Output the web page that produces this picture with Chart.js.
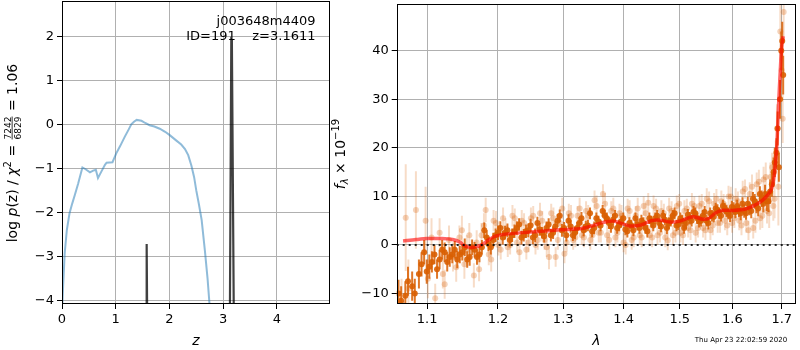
<!DOCTYPE html>
<html>
<head>
<meta charset="utf-8">
<script src="https://cdn.jsdelivr.net/npm/chart.js@4"></script>
<style>
  html, body { margin: 0; padding: 0; background: #fff; }
  #wrap { position: relative; width: 800px; height: 350px; }
  canvas { position: absolute; top: 0; }
</style>
</head>
<body>
<div id="wrap">
  <canvas id="pzChart" width="332" height="350" style="left:0"></canvas>
  <canvas id="specChart" width="470" height="350" style="left:330px"></canvas>
</div>
<script>
// p(z) panel
const zTicks = [0, 1, 2, 3, 4];
const logpTicks = [-4, -3, -2, -1, 0, 1, 2];
const pzZ = [0, 0.02, 0.05, 0.09, 0.14, 0.19, 0.24, 0.3, 0.38, 0.44, 0.52, 0.58, 0.63, 0.67, 0.73, 0.8, 0.83, 0.94, 1.01, 1.08, 1.17, 1.24, 1.29, 1.34, 1.39, 1.48, 1.55, 1.63, 1.72, 1.82, 1.92, 2.0, 2.13, 2.22, 2.29, 2.35, 2.41, 2.46, 2.5, 2.55, 2.6, 2.66, 2.71, 2.76];
const pzLog = [-4.3, -3.7, -2.93, -2.4, -2.02, -1.8, -1.6, -1.35, -0.98, -1.02, -1.09, -1.05, -1.03, -1.22, -1.08, -0.92, -0.87, -0.86, -0.66, -0.5, -0.28, -0.12, 0.0, 0.06, 0.1, 0.08, 0.03, -0.02, -0.05, -0.1, -0.17, -0.24, -0.37, -0.46, -0.56, -0.7, -0.94, -1.2, -1.5, -1.82, -2.17, -2.86, -3.5, -4.3];
const spikeZ = [1.566, 1.574, 1.579, 1.587, 1.6, 3.125, 3.152, 3.163, 3.2];
const spikeLog = [-4.6, -2.72, -2.74, -4.6, null, -4.6, 1.92, 1.9, -4.6];

// spectrum panel
const lamTicks = [1.1, 1.2, 1.3, 1.4, 1.5, 1.6, 1.7];
const fluxTicks = [-10, 0, 10, 20, 30, 40];
const lamMin = 1.0597, lamMax = 1.730;

const darkLam = [1.062, 1.071, 1.080, 1.089, 1.096, 1.103, 1.110, 1.117, 1.124, 1.131, 1.138, 1.145, 1.152, 1.159, 1.166, 1.173, 1.180, 1.186, 1.193, 1.200, 1.207, 1.214, 1.221, 1.228, 1.235, 1.242, 1.249, 1.256, 1.263, 1.270, 1.277, 1.284, 1.291, 1.298, 1.305, 1.312, 1.319, 1.326, 1.333, 1.340, 1.347, 1.354, 1.361, 1.368, 1.375, 1.382, 1.389, 1.396, 1.403, 1.410, 1.417, 1.424, 1.431, 1.438, 1.445, 1.452, 1.459, 1.466, 1.473, 1.480, 1.487, 1.494, 1.501, 1.508, 1.515, 1.522, 1.529, 1.536, 1.543, 1.550, 1.557, 1.564, 1.571, 1.578, 1.585, 1.592, 1.599, 1.606, 1.613, 1.620, 1.627, 1.634, 1.641, 1.648, 1.655, 1.662, 1.669, 1.676, 1.683, 1.689, 1.694, 1.699, 1.703];
const darkFlux = [-10, -10.5, -8.5, -6.0, -1.5, -4.5, -2.0, -3.0, -1.5, -2.5, -1.0, -2.0, -0.5, -2.5, -1.0, -2.0, 3.0, 0.2, 1.0, 2.5, 1.5, 3.0, 2.0, 3.5, 1.5, 2.8, 4.0, 2.0, 3.2, 1.8, 4.2, 2.5, 5.0, 3.0, 2.0, 3.8, 2.5, 4.5, 3.0, 4.0, 2.8, 5.5, 4.0, 6.0, 4.5, 5.2, 3.5, 4.8, 3.2, 4.5, 3.0, 4.2, 5.0, 3.5, 5.5, 4.0, 6.0, 3.8, 5.2, 4.5, 6.0, 4.0, 5.5, 3.5, 6.2, 5.0, 6.5, 4.8, 6.0, 5.0, 6.5, 5.8, 7.2, 6.0, 7.5, 6.5, 7.8, 6.8, 7.0, 8.5, 6.5, 7.5, 9.5, 8.0, 10.5, 8.5, 9.0, 11.0, 15.0, 19.0, 16.0, 40.0, 35.0];
const darkErr = [2.8, 3, 3, 3, 2.5, 2.5, 2, 2, 2, 2, 1.8, 1.8, 1.8, 1.8, 1.6, 1.6, 1.6, 1.5, 1.5, 1.5, 1.4, 1.4, 1.4, 1.4, 1.4, 1.4, 1.4, 1.4, 1.3, 1.3, 1.3, 1.3, 1.3, 1.3, 1.3, 1.3, 1.3, 1.2, 1.2, 1.2, 1.2, 1.2, 1.2, 1.2, 1.2, 1.2, 1.2, 1.2, 1.2, 1.2, 1.2, 1.2, 1.2, 1.2, 1.2, 1.2, 1.2, 1.2, 1.2, 1.2, 1.2, 1.2, 1.2, 1.2, 1.2, 1.2, 1.2, 1.2, 1.2, 1.2, 1.2, 1.2, 1.2, 1.2, 1.2, 1.2, 1.3, 1.3, 1.3, 1.3, 1.3, 1.4, 1.4, 1.5, 1.6, 1.8, 2, 2.5, 3, 3, 3, 4, 4];

const darkLamB = [1.0655, 1.0745, 1.0835, 1.0925, 1.0995, 1.1065, 1.1135, 1.1205, 1.1275, 1.1345, 1.1415, 1.1485, 1.1555, 1.1625, 1.1695, 1.1765, 1.1835, 1.1895, 1.1965, 1.2035, 1.2105, 1.2175, 1.2245, 1.2315, 1.2385, 1.2455, 1.2525, 1.2595, 1.2665, 1.2735, 1.2805, 1.2875, 1.2945, 1.3015, 1.3085, 1.3155, 1.3225, 1.3295, 1.3365, 1.3435, 1.3505, 1.3575, 1.3645, 1.3715, 1.3785, 1.3855, 1.3925, 1.3995, 1.4065, 1.4135, 1.4205, 1.4275, 1.4345, 1.4415, 1.4485, 1.4555, 1.4625, 1.4695, 1.4765, 1.4835, 1.4905, 1.4975, 1.5045, 1.5115, 1.5185, 1.5255, 1.5325, 1.5395, 1.5465, 1.5535, 1.5605, 1.5675, 1.5745, 1.5815, 1.5885, 1.5955, 1.6025, 1.6095, 1.6165, 1.6235, 1.6305, 1.6375, 1.6445, 1.6515, 1.6585, 1.6655, 1.6725, 1.6795, 1.6855, 1.6915, 1.6965, 1.7010];
const darkFluxB = [-11.5, -7.5, -10.0, -4.0, -5.5, -3.5, -5.0, -1.0, -3.5, -2.0, -3.0, -1.5, -3.0, -0.5, -2.5, -0.5, 1.5, -0.5, 2.0, 3.5, 2.5, 1.0, 2.8, 4.2, 2.0, 3.0, 1.5, 4.5, 2.5, 3.5, 2.0, 3.8, 6.0, 3.5, 5.0, 2.0, 3.5, 5.5, 3.8, 6.5, 3.5, 4.8, 7.0, 5.5, 3.8, 6.0, 4.0, 5.5, 2.8, 4.0, 5.5, 3.5, 4.5, 2.8, 4.8, 5.5, 4.5, 6.0, 3.5, 5.0, 6.5, 4.2, 5.0, 4.5, 5.5, 6.8, 5.5, 5.0, 6.8, 4.5, 6.0, 7.5, 6.5, 8.0, 7.0, 6.0, 7.5, 8.0, 6.5, 7.0, 8.5, 7.0, 9.0, 7.5, 9.5, 10.5, 9.0, 12.5, 17.0, 24.0, 30.0, 42.0];
const darkErrB = [3, 3, 3, 2.5, 2.5, 2.2, 2, 2, 2, 1.8, 1.8, 1.7, 1.7, 1.6, 1.6, 1.5, 1.5, 1.5, 1.4, 1.4, 1.4, 1.3, 1.4, 1.3, 1.3, 1.4, 1.3, 1.3, 1.2, 1.3, 1.3, 1.2, 1.3, 1.2, 1.3, 1.2, 1.2, 1.3, 1.2, 1.2, 1.3, 1.2, 1.2, 1.2, 1.3, 1.2, 1.2, 1.2, 1.3, 1.2, 1.2, 1.2, 1.2, 1.3, 1.2, 1.2, 1.2, 1.2, 1.3, 1.2, 1.2, 1.2, 1.2, 1.2, 1.3, 1.2, 1.2, 1.2, 1.2, 1.3, 1.2, 1.2, 1.2, 1.3, 1.3, 1.3, 1.3, 1.3, 1.4, 1.4, 1.4, 1.5, 1.5, 1.6, 1.7, 1.9, 2.2, 2.6, 3, 3.5, 4, 4];

const lightLam = [1.066, 1.0715, 1.075, 1.085, 1.098, 1.101, 1.106, 1.111, 1.117, 1.124, 1.130, 1.140, 1.148, 1.155, 1.165, 1.169, 1.176, 1.182, 1.190, 1.197, 1.204, 1.211, 1.218, 1.225, 1.232, 1.239, 1.246, 1.253, 1.260, 1.267, 1.274, 1.281, 1.288, 1.295, 1.302, 1.309, 1.316, 1.323, 1.330, 1.337, 1.344, 1.351, 1.358, 1.365, 1.372, 1.379, 1.386, 1.393, 1.400, 1.407, 1.414, 1.421, 1.428, 1.435, 1.443, 1.450, 1.457, 1.464, 1.471, 1.478, 1.485, 1.492, 1.499, 1.506, 1.513, 1.520, 1.527, 1.534, 1.541, 1.548, 1.555, 1.562, 1.569, 1.576, 1.583, 1.590, 1.597, 1.604, 1.611, 1.618, 1.625, 1.632, 1.639, 1.646, 1.653, 1.660, 1.667, 1.674, 1.680, 1.685, 1.690, 1.693, 1.697, 1.700, 1.702, 1.704];
const lightFlux = [-12, 5.6, -9, 7.2, 5.0, -7, 1.5, -11, 2.5, -8.1, 1.0, -4.6, 3.0, -1.0, -6.3, 0.5, 2.0, 7.2, -3.0, 4.5, -1.0, 3.5, 0.0, 5.5, -1.5, 4.5, 0.5, 6.0, 1.0, 5.0, -0.5, 6.5, -2.5, 4.5, -1.8, 6.5, 1.0, 6.0, 2.0, 7.0, 1.0, 9.2, 2.5, 10.5, 2.0, 7.0, 1.5, 6.5, 0.5, 7.5, 1.0, 6.0, 2.0, 8.0, 8.7, 1.5, 7.5, 2.5, 6.5, 0.9, 7.0, 2.5, 8.5, 2.0, 7.5, 3.0, 8.0, 3.5, 8.5, 3.0, 9.0, 4.0, 9.5, 4.5, 8.5, 4.0, 10.0, 5.5, 9.0, 4.0, 11.5, 3.0, 12.0, 5.0, 13.0, 6.0, 14.0, 6.5, 16.0, 9.5, 24, 12, 44, 36, 26, 48];
const lightErr = [5, 11, 6, 8, 7, 4, 4, 3, 3, 3, 3, 3, 3, 3, 2.5, 2.5, 2.5, 2.5, 2.5, 2.5, 2, 2, 2, 2, 2, 2, 2, 2, 2, 2, 2, 2, 2, 2, 2, 2, 2, 2, 2, 2, 2, 2, 2, 2, 2, 2, 2, 2, 2, 2, 2, 2, 2, 2, 2, 2, 2, 2, 2, 2, 2, 2, 2, 2, 2, 2, 2, 2, 2, 2, 2, 2, 2, 2, 2, 2, 2, 2, 2, 2, 2, 2, 2.5, 2.5, 2.5, 2.5, 3, 3, 3, 4, 5, 8, 6, 6, 5, 6];

const lightLamB = [1.1215, 1.1355, 1.1445, 1.1515, 1.1585, 1.1725, 1.1795, 1.1865, 1.1935, 1.2005, 1.2075, 1.2145, 1.2215, 1.2285, 1.2355, 1.2425, 1.2495, 1.2565, 1.2635, 1.2705, 1.2775, 1.2845, 1.2915, 1.2985, 1.3055, 1.3125, 1.3195, 1.3265, 1.3335, 1.3405, 1.3475, 1.3545, 1.3615, 1.3685, 1.3755, 1.3825, 1.3895, 1.3965, 1.4035, 1.4105, 1.4175, 1.4245, 1.4315, 1.4385, 1.4455, 1.4525, 1.4595, 1.4665, 1.4735, 1.4805, 1.4875, 1.4945, 1.5015, 1.5085, 1.5155, 1.5225, 1.5295, 1.5365, 1.5435, 1.5505, 1.5575, 1.5645, 1.5715, 1.5785, 1.5855, 1.5925, 1.5995, 1.6065, 1.6135, 1.6205, 1.6275, 1.6345, 1.6415, 1.6485, 1.6555, 1.6625, 1.6695, 1.6765, 1.6825, 1.6875];
const lightFluxB = [-6.0, -2.5, 1.5, -4.0, 2.0, -5.0, 4.0, -2.0, 5.0, 0.0, 5.5, -0.5, 6.0, 0.5, 5.0, -1.0, 5.5, 0.0, 6.5, 1.0, -2.5, 5.5, 1.0, 7.5, 0.5, 6.0, 1.5, 7.5, 1.5, 6.0, 2.0, 8.0, 2.5, 8.5, 1.0, 7.5, 2.5, 6.0, 0.0, 7.0, 1.5, 7.5, 1.5, 6.5, 2.0, 8.0, 2.0, 7.0, 1.5, 7.5, 2.0, 8.0, 2.5, 7.0, 3.5, 8.5, 2.5, 8.0, 3.5, 9.5, 3.0, 8.5, 4.5, 9.0, 5.0, 10.0, 4.5, 9.5, 5.0, 11.0, 4.5, 10.5, 3.5, 12.5, 5.5, 13.5, 7.0, 14.0, 8.0, 18.0];
const lightErrB = [3, 3, 2.5, 3, 2.5, 2.5, 2.5, 2.2, 2.2, 2.2, 2.2, 2, 2.2, 2, 2.2, 2, 2.2, 2, 2.2, 2, 2.5, 2.2, 2, 2.2, 2, 2.2, 2, 2.2, 2, 2.2, 2, 2.2, 2, 2.2, 2, 2.2, 2, 2.2, 2, 2.2, 2, 2.2, 2, 2.2, 2, 2.2, 2, 2.2, 2, 2.2, 2, 2.2, 2, 2.2, 2, 2.2, 2, 2.2, 2, 2.2, 2, 2.2, 2, 2.2, 2, 2.2, 2, 2.2, 2, 2.2, 2, 2.4, 2.2, 2.4, 2.4, 2.6, 2.6, 3, 3, 3.5];

const modelLam = [1.068, 1.085, 1.10, 1.12, 1.135, 1.145, 1.152, 1.16, 1.168, 1.176, 1.186, 1.196, 1.21, 1.244, 1.296, 1.33, 1.349, 1.365, 1.383, 1.395, 1.411, 1.43, 1.449, 1.465, 1.483, 1.50, 1.524, 1.543, 1.555, 1.566, 1.579, 1.60, 1.626, 1.645, 1.66, 1.672, 1.679, 1.684, 1.687, 1.690, 1.693, 1.697, 1.700, 1.703];
const modelFlux = [0.8, 1.1, 1.3, 1.3, 1.1, 0.6, -0.2, -0.5, -0.4, 0.0, 1.0, 1.8, 2.2, 2.6, 3.1, 3.4, 4.0, 4.6, 4.9, 4.5, 3.9, 4.1, 5.0, 5.1, 4.7, 4.9, 5.8, 5.3, 5.5, 6.5, 7.1, 7.1, 7.4, 8.2, 9.2, 10.4, 11.6, 14, 17, 21, 28, 36, 41, 43];

const font = { family: "DejaVu Sans", size: 13 };
const fmtMinus = v => String(v).replace('-', '\u2212');

function pts(xs, ys) {
  return xs.map((x, i) => ({ x: x, y: ys[i] }));
}
function errBars(xs, ys, es) {
  const out = [];
  xs.forEach((x, i) => {
    out.push({ x: x, y: ys[i] - es[i] }, { x: x, y: ys[i] + es[i] }, { x: x, y: null });
  });
  return out;
}

function axis(min, max, ticks, fmt, extra) {
  return Object.assign({
    min: min, max: max,
    afterBuildTicks: s => { s.ticks = ticks.map(v => ({ value: v })); },
    grid: { color: "#b0b0b0", lineWidth: 1, tickColor: "#000", tickLength: 5 },
    border: { display: false },
    ticks: { color: "#000", font: font, maxRotation: 0, autoSkip: false, callback: fmt }
  }, extra);
}

const frame = {
  id: "frame",
  afterDatasetsDraw(chart) {
    const a = chart.chartArea, c = chart.ctx;
    c.save();
    c.strokeStyle = "#000";
    c.lineWidth = 1;
    c.strokeRect(Math.round(a.left) + 0.5, Math.round(a.top) + 0.5, Math.round(a.right - a.left) - 1, Math.round(a.bottom - a.top) - 1);
    c.restore();
  }
};

function drawPieces(c, pieces, cx, by) {
  let total = 0;
  pieces.forEach(p => { c.font = p.f; p.w = p.frac ? Math.max(c.measureText(p.t[0]).width, c.measureText(p.t[1]).width) + 2 : c.measureText(p.t).width; total += p.w; });
  let x = cx - total / 2;
  pieces.forEach(p => {
    c.font = p.f;
    if (p.frac) {
      c.textAlign = "center";
      c.fillText(p.t[0], x + p.w / 2, by - 6.5);
      c.fillText(p.t[1], x + p.w / 2, by + 4);
      c.fillRect(x + 1, by - 5.3, p.w - 2, 0.8);
      c.textAlign = "left";
    } else {
      c.fillText(p.t, x, by + (p.dy || 0));
    }
    x += p.w;
  });
}

const pzLabels = {
  id: "pzLabels",
  afterDraw(chart) {
    const c = chart.ctx;
    c.save();
    c.fillStyle = "#000";
    c.textBaseline = "alphabetic";
    c.textAlign = "right";
    c.font = "13px DejaVu Sans";
    c.fillText("j003648m4409", 315.5, 25);
    c.fillText("ID=191    z=3.1611", 315.5, 39.5);
    c.textAlign = "left";
    c.translate(17, 153);
    c.rotate(-Math.PI / 2);
    const reg = "14px DejaVu Sans", it = "italic 14px DejaVu Sans", sm = "9px DejaVu Sans";
    drawPieces(c, [
      { t: "log ", f: reg }, { t: "p", f: it }, { t: "(z) / ", f: reg }, { t: "\u03c7", f: it },
      { t: "2", f: "10px DejaVu Sans", dy: -6 }, { t: " = ", f: reg },
      { t: ["7242", "6829"], f: sm, frac: true }, { t: " = 1.06", f: reg }
    ], 0, 0);
    c.restore();
  }
};

const yFit = w => s => { s.width = w; s.paddingTop = 0; s.paddingBottom = 0; };
const xFit = s => { s.height = 46; s.paddingLeft = 0; s.paddingRight = 0; };

new Chart(document.getElementById("pzChart"), {
  type: "scatter",
  data: {
    datasets: [
      { data: pts(pzZ, pzLog), showLine: true, borderColor: "rgba(31,119,180,0.5)", borderWidth: 2, pointRadius: 0, clip: 0, order: 2 },
      { data: pts(spikeZ, spikeLog), showLine: true, spanGaps: false, borderColor: "rgba(0,0,0,0.75)", borderWidth: 2.2, pointRadius: 0, clip: 0, order: 1 }
    ]
  },
  options: {
    responsive: false, animation: false, events: [],
    layout: { padding: { left: 0, right: 2, top: 1, bottom: 0 } },
    plugins: { legend: { display: false }, tooltip: { enabled: false } },
    scales: {
      x: axis(0, 4.99, zTicks, v => fmtMinus(v), {
        type: "linear", afterFit: xFit,
        title: { display: true, text: "z", color: "#000", font: { family: "DejaVu Sans", size: 14, style: "italic" }, padding: { top: 0, bottom: 0 } }
      }),
      y: axis(-4.08, 2.8, logpTicks, v => fmtMinus(v), { afterFit: yFit(62) })
    }
  },
  plugins: [frame, pzLabels]
});

const specLabels = {
  id: "specLabels",
  afterDraw(chart) {
    const c = chart.ctx;
    c.save();
    c.fillStyle = "#000";
    c.textAlign = "center";
    c.textBaseline = "middle";
    c.font = "7px DejaVu Sans";
    c.fillText("Thu Apr 23 22:02:59 2020", 411, 340);
    c.textAlign = "left";
    c.textBaseline = "alphabetic";
    c.translate(15, 154);
    c.rotate(-Math.PI / 2);
    drawPieces(c, [
      { t: "f", f: "italic 14px DejaVu Sans" }, { t: "\u03bb", f: "italic 10px DejaVu Sans", dy: 3 },
      { t: " \u00d7 10", f: "14px DejaVu Sans" }, { t: "\u221219", f: "10px DejaVu Sans", dy: -6 }
    ], 0, 0);
    c.restore();
  }
};

const orange = "217,95,2";
new Chart(document.getElementById("specChart"), {
  type: "scatter",
  data: {
    datasets: [
      { data: errBars(lightLam.concat(lightLamB), lightFlux.concat(lightFluxB), lightErr.concat(lightErrB)), showLine: true, spanGaps: false, borderColor: "rgba(" + orange + ",0.22)", borderWidth: 2, pointRadius: 0, clip: 0, order: 7 },
      { data: pts(lightLam.concat(lightLamB), lightFlux.concat(lightFluxB)), backgroundColor: "rgba(" + orange + ",0.28)", borderWidth: 0, pointRadius: 3, clip: 0, order: 6 },
      { data: errBars(darkLam.concat(darkLamB), darkFlux.concat(darkFluxB), darkErr.concat(darkErrB)), showLine: true, spanGaps: false, borderColor: "rgba(" + orange + ",0.85)", borderWidth: 2, pointRadius: 0, clip: 0, order: 5 },
      { data: pts(darkLam.concat(darkLamB), darkFlux.concat(darkFluxB)), backgroundColor: "rgba(" + orange + ",0.9)", borderWidth: 0, pointRadius: 3, clip: 0, order: 4 },
      { data: pts(modelLam, modelFlux), showLine: true, borderColor: "rgba(255,0,0,0.6)", borderWidth: 3.5, pointRadius: 0, tension: 0.3, clip: 0, order: 3 },
      { data: [{ x: lamMin, y: 0 }, { x: lamMax, y: 0 }], showLine: true, borderColor: "rgba(0,0,0,0.85)", borderWidth: 2, borderDash: [2, 4], pointRadius: 0, clip: 0, order: 1 }
    ]
  },
  options: {
    responsive: false, animation: false, events: [],
    layout: { padding: { left: 0, right: 0.7, top: 1, bottom: 0 } },
    plugins: { legend: { display: false }, tooltip: { enabled: false } },
    scales: {
      x: axis(lamMin, lamMax, lamTicks, v => v.toFixed(1), {
        type: "logarithmic", afterFit: xFit,
        title: { display: true, text: "\u03bb", color: "#000", font: { family: "DejaVu Sans", size: 14, style: "italic" }, padding: { top: 0, bottom: 0 } }
      }),
      y: axis(-12.18, 49.65, fluxTicks, v => fmtMinus(v), { afterFit: yFit(66.7) })
    }
  },
  plugins: [frame, specLabels]
});
</script>
</body>
</html>
